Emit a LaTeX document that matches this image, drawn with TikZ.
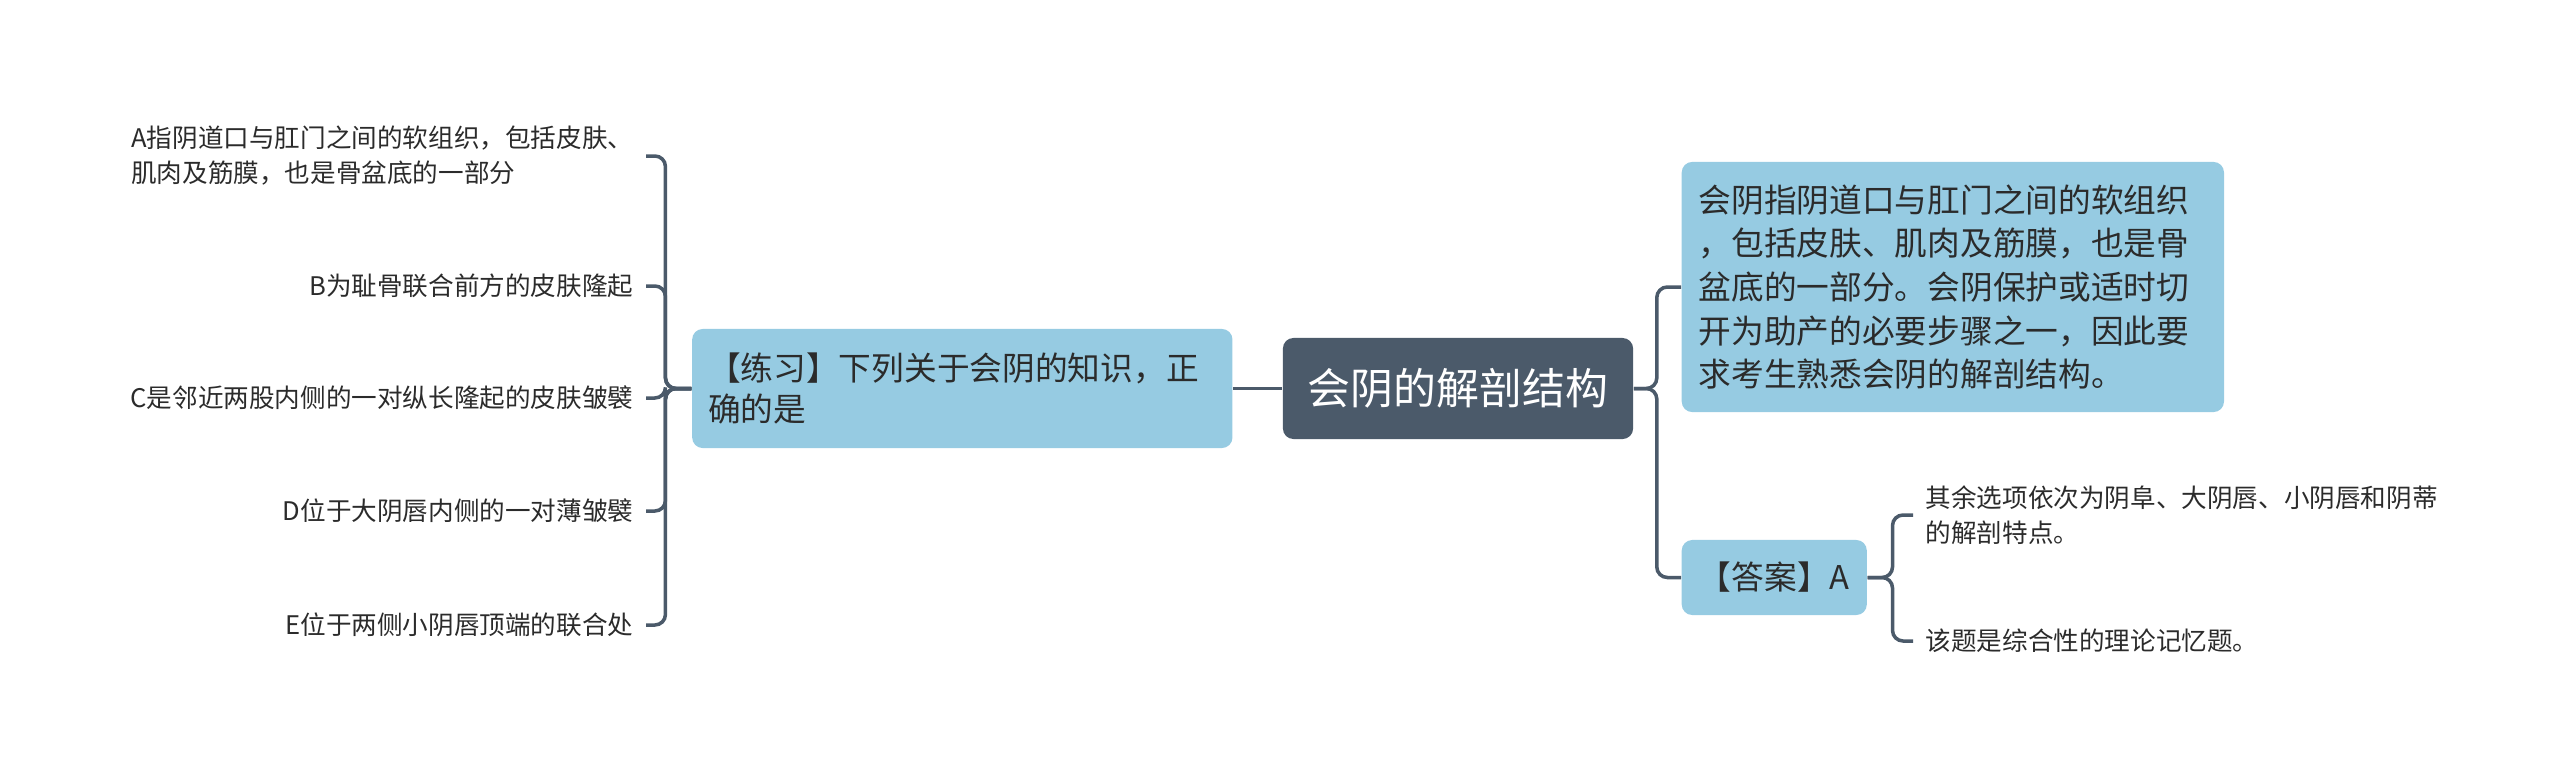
\documentclass[tikz,border=0pt]{standalone}
\usepackage{fontspec}
\setmainfont{Noto Sans CJK SC}
\usepackage{xcolor}
\usepackage{tikz}
\usetikzlibrary{positioning}

\definecolor{rootfill}{HTML}{4B5A6A}
\definecolor{topicfill}{HTML}{96CBE2}
\definecolor{linecol}{HTML}{4B5A6A}
\definecolor{textcol}{HTML}{2B2B2B}

\begin{document}
\begin{tikzpicture}[
  x=0.01cm, y=-0.01cm,
  rootbox/.style={fill=rootfill, text=white, rounded corners=3pt, minimum width=3.5cm, minimum height=1.01cm, font=\fontsize{12.2}{14}\selectfont},
  topic/.style={fill=topicfill, text=textcol, rounded corners=3pt, align=left, font=\fontsize{9.3}{11.4}\selectfont},
  leaf/.style={text=textcol, align=left, inner xsep=3.4pt, inner ysep=1pt, font=\fontsize{7.28}{9.96}\selectfont},
  link/.style={draw=linecol, line width=1pt, rounded corners=3pt}
]
\useasboundingbox (0,0) rectangle (2560,781);

% Center: main topic
\node[rootbox] (root) at (1458,388.5) {会阴的解剖结构};

% Left: the exercise and its options
\node[topic, left=0.49cm of root, text width=5.08cm, inner xsep=0.16cm, minimum height=1.19cm] (practice) {【练习】下列关于会阴的知识，正\\确的是};

\node[leaf, anchor=east] (optA) at (646,156) {A指阴道口与肛门之间的软组织，包括皮肤、\\肌肉及筋膜，也是骨盆底的一部分};
\node[leaf, anchor=east] (optB) at (646,286) {B为耻骨联合前方的皮肤隆起};
\node[leaf, anchor=east] (optC) at (646,398) {C是邻近两股内侧的一对纵长隆起的皮肤皱襞};
\node[leaf, anchor=east] (optD) at (646,511) {D位于大阴唇内侧的一对薄皱襞};
\node[leaf, anchor=east] (optE) at (646,625) {E位于两侧小阴唇顶端的联合处};

% Right: explanation and answer
\node[topic, anchor=west, text width=5.08cm, inner xsep=0.17cm, minimum height=2.5cm, font=\fontsize{9.3}{12.4}\selectfont] (expl) at (1681,287) {会阴指阴道口与肛门之间的软组织\\，包括皮肤、肌肉及筋膜，也是骨\\盆底的一部分。会阴保护或适时切\\开为助产的必要步骤之一，因此要\\求考生熟悉会阴的解剖结构。};
\node[topic, anchor=west, minimum width=1.85cm, minimum height=0.75cm, align=center] (answer) at (1681,577.5) {【答案】A};

\node[leaf, anchor=west] (tipA) at (1913,515) {其余选项依次为阴阜、大阴唇、小阴唇和阴蒂\\的解剖特点。};
\node[leaf, anchor=west] (tipB) at (1913,641) {该题是综合性的理论记忆题。};

% Connectors
\draw[link] (root.west) -- (practice.east);
\foreach \n in {optA,optB,optC,optD,optE}
  \draw[link] (practice.west) -- ++(-26,0) |- (\n.east);
\foreach \n in {expl,answer}
  \draw[link] (root.east) -- ++(23,0) |- (\n.west);
\foreach \n in {tipA,tipB}
  \draw[link] (answer.east) -- ++(25,0) |- (\n.west);

\end{tikzpicture}
\end{document}
